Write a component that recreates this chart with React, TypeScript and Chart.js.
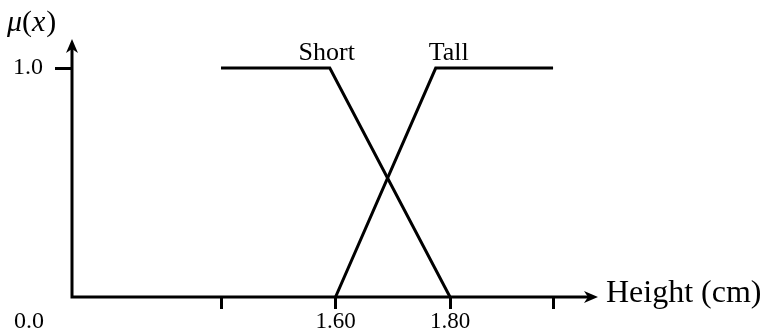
import React, { useEffect, useRef } from "react";
import { Chart, registerables } from "chart.js";

Chart.register(...registerables);

// ---- data ----
const shortX = [1.4, 1.59, 1.8];
const shortY = [1, 1, 0];
const tallX = [1.6, 1.775, 1.98];
const tallY = [0, 1, 1];
const seriesNames = ["Short", "Tall"];

const xTicks = [1.4, 1.6, 1.8, 1.98];
const xTickLabels = ["", "1.60", "1.80", ""];
const yTicks = [1.0];
const yTickLabels = ["1.0"];
const originLabel = "0.0";
const xAxisTitle = "Height (cm)";

const xMin = 1.1397;
const xMax = 2.0585;
const yMin = 0;
const yMax = 1.127;

const FONT = "'Liberation Serif', 'DejaVu Serif', serif";

const decorPlugin = {
  id: "decor",
  afterDraw(chart: any) {
    const ctx = chart.ctx as CanvasRenderingContext2D;
    const xs = chart.scales.x;
    const ys = chart.scales.y;
    const ox = xs.getPixelForValue(xMin);
    const oy = ys.getPixelForValue(yMin);
    const right = xs.getPixelForValue(xMax);
    const top = ys.getPixelForValue(yMax);
    ctx.save();
    ctx.strokeStyle = "#000";
    ctx.fillStyle = "#000";
    ctx.lineWidth = 3;
    ctx.lineCap = "butt";
    // axes lines
    ctx.beginPath();
    ctx.moveTo(ox - 1.5, oy);
    ctx.lineTo(right - 6, oy);
    ctx.moveTo(ox, oy + 1.5);
    ctx.lineTo(ox, top + 6);
    ctx.stroke();
    // x arrow
    ctx.beginPath();
    ctx.moveTo(right, oy);
    ctx.lineTo(right - 14, oy - 6);
    ctx.lineTo(right - 10, oy);
    ctx.lineTo(right - 14, oy + 6);
    ctx.closePath();
    ctx.fill();
    // y arrow
    ctx.beginPath();
    ctx.moveTo(ox, top);
    ctx.lineTo(ox - 6, top + 14);
    ctx.lineTo(ox, top + 10);
    ctx.lineTo(ox + 6, top + 14);
    ctx.closePath();
    ctx.fill();

    // texts
    ctx.textBaseline = "alphabetic";
    ctx.font = `32px ${FONT}`;
    ctx.textAlign = "left";
    ctx.fillText(xAxisTitle, right + 8, oy + 5);

    ctx.font = `24px ${FONT}`;
    ctx.textAlign = "center";
    ctx.fillText(originLabel, ox - 43, oy + 31);

    // mu(x)
    let x = 7;
    const by = 31;
    ctx.textAlign = "left";
    ctx.font = `italic 30px ${FONT}`;
    ctx.fillText("\u03bc", x, by);
    x += ctx.measureText("\u03bc").width;
    ctx.font = `30px ${FONT}`;
    ctx.fillText("(", x, by);
    x += ctx.measureText("(").width;
    ctx.font = `italic 30px ${FONT}`;
    ctx.fillText("x", x, by);
    x += ctx.measureText("x").width + 1;
    ctx.font = `30px ${FONT}`;
    ctx.fillText(")", x, by);

    // series labels
    ctx.font = `26px ${FONT}`;
    ctx.textAlign = "center";
    const ly = ys.getPixelForValue(1) - 8;
    ctx.fillText(seriesNames[0], xs.getPixelForValue(shortX[1]) - 3, ly);
    ctx.fillText(seriesNames[1], xs.getPixelForValue(tallX[1]) + 13, ly);
    ctx.restore();
  },
};

export default function App() {
  const ref = useRef<HTMLCanvasElement | null>(null);
  useEffect(() => {
    if (!ref.current) return;
    Chart.defaults.font.family = FONT;
    const chart = new Chart(ref.current, {
      type: "line",
      data: {
        datasets: [
          {
            label: seriesNames[0],
            data: shortX.map((v, i) => ({ x: v, y: shortY[i] })),
            borderColor: "#000",
            borderWidth: 3,
            pointRadius: 0,
            tension: 0,
            fill: false,
          },
          {
            label: seriesNames[1],
            data: tallX.map((v, i) => ({ x: v, y: tallY[i] })),
            borderColor: "#000",
            borderWidth: 3,
            pointRadius: 0,
            tension: 0,
            fill: false,
          },
        ],
      },
      options: {
        animation: false,
        responsive: false,
        layout: { padding: { left: 0, top: 39, right: 169, bottom: 0 } },
        plugins: {
          legend: { display: false },
          tooltip: { enabled: false },
        },
        elements: { line: { borderCapStyle: "butt", borderJoinStyle: "miter" } },
        scales: {
          x: {
            type: "linear",
            min: xMin,
            max: xMax,
            border: { display: false },
            grid: {
              drawOnChartArea: false,
              drawTicks: true,
              tickLength: 12,
              tickWidth: 3,
              tickColor: "#000",
            },
            afterBuildTicks: (scale: any) => {
              scale.ticks = xTicks.map((v) => ({ value: v }));
            },
            afterFit: (scale: any) => {
              scale.height = 36;
            },
            ticks: {
              autoSkip: false,
              maxRotation: 0,
              padding: -1,
              color: "#000",
              font: { size: 23, family: FONT },
              callback: (_v: any, i: number) => xTickLabels[i],
            },
          },
          y: {
            type: "linear",
            min: yMin,
            max: yMax,
            border: { display: false },
            grid: {
              drawOnChartArea: false,
              drawTicks: true,
              tickLength: 17,
              tickWidth: 3,
              tickColor: "#000",
            },
            afterBuildTicks: (scale: any) => {
              scale.ticks = yTicks.map((v) => ({ value: v }));
            },
            afterFit: (scale: any) => {
              scale.width = 72;
            },
            ticks: {
              padding: 12,
              color: "#000",
              font: { size: 24, family: FONT },
              callback: (_v: any, i: number) => yTickLabels[i],
            },
          },
        },
      },
      plugins: [decorPlugin],
    } as any);
    return () => chart.destroy();
  }, []);
  return (
    <div style={{ position: "fixed", left: 0, top: 0, width: 767, height: 333, background: "#fff" }}>
      <canvas ref={ref} width={767} height={333} style={{ display: "block" }} />
    </div>
  );
}
